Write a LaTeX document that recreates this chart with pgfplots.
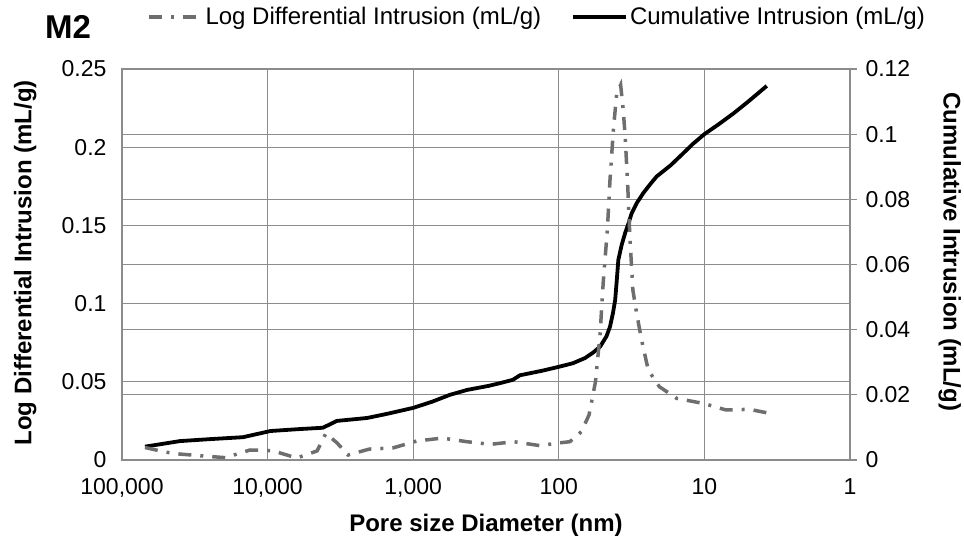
\documentclass[border=0pt]{standalone}
\usepackage{fontspec}
\setmainfont{Liberation Sans}
\usepackage{pgfplots}
\pgfplotsset{compat=1.18}

\definecolor{gridgray}{RGB}{140,140,140}
\definecolor{seriesgray}{RGB}{110,110,110}

% shared frame: 1pt ~ 1px of the 964x542 reference
\pgfplotsset{
  m2base/.style={
    scale only axis, width=728pt, height=391pt,
    at={(0pt,0pt)}, anchor=south west,
    x dir=reverse, xmin=1, xmax=100000,
    xminorticks=false,
    /pgf/number format/assume math mode=true,
    tick label style={font=\fontsize{23}{27}\selectfont},
    label style={font=\bfseries\fontsize{24}{28}\selectfont},
    axis line style={gridgray, line width=1.2pt},
    tick style={gridgray, line width=1.2pt},
    major tick length=0pt, tick align=outside,
    grid style={gridgray, line width=1.2pt},
  },
  dashdot/.style={seriesgray, line width=3.5pt,
    dash pattern=on 13pt off 9pt on 3pt off 9pt},
  solidblack/.style={black, line width=3.8pt},
}

\begin{document}
\begin{tikzpicture}
\useasboundingbox (-122pt,-82pt) rectangle (842pt,460pt);

% left axis: frame, x ticks, left grid
\begin{axis}[xmode=log, m2base,
    ymin=0, ymax=0.25,
    xtick={1,10,100,1000,10000,100000},
    xticklabels={1,10,100,{1,000},{10,000},{100,000}},
    ytick={0,0.05,0.1,0.15,0.2,0.25},
    yticklabels={0,0.05,0.1,0.15,0.2,0.25},
    xtick pos=bottom, ytick pos=left,
    xticklabel style={yshift=-15pt},
    yticklabel style={xshift=-12pt},
    xmajorgrids, ymajorgrids,
    xlabel={Pore size Diameter (nm)},
    ylabel={Log Differential Intrusion (mL/g)},
    xlabel style={at={(axis description cs:0.5,-0.166)}, anchor=center},
    ylabel style={at={(axis description cs:-0.133,0.504)}, anchor=center},
  ]
\end{axis}

% right axis: cumulative intrusion
\begin{axis}[xmode=log, m2base,
    ymin=0, ymax=0.12,
    axis x line=none, axis y line*=right,
    major tick length=7pt,
    ytick={0,0.02,0.04,0.06,0.08,0.1,0.12},
    yticklabels={0,0.02,0.04,0.06,0.08,0.1,0.12},
    yticklabel style={xshift=5pt},
    ymajorgrids,
    ylabel={Cumulative Intrusion (mL/g)},
    ylabel style={at={(axis description cs:1.137,0.532)}, anchor=center, rotate=180},
  ]
\addplot[solidblack] coordinates {
  (69500,0.0041) (40000,0.0058) (25000,0.0064) (14760,0.0070) (9550,0.0089)
  (6000,0.0095) (4170,0.0099) (3340,0.0120) (2070,0.0129) (1500,0.0142)
  (1000,0.0160) (740,0.0179) (560,0.0200) (427,0.0215) (300,0.0228)
  (253,0.0236) (207,0.0246) (185,0.0260) (130,0.0274) (100,0.0286)
  (80,0.0297) (66,0.0313) (58,0.0330) (52,0.0348) (47,0.0380)
  (44.5,0.0409) (42.5,0.0450) (41,0.0491) (40,0.0550) (39,0.0614)
  (37,0.0660) (35,0.0697) (33,0.0730) (31.6,0.0757) (29,0.0790)
  (26.3,0.0819) (23.5,0.0847) (21.3,0.0870) (17,0.0905) (14,0.0941)
  (12,0.0970) (10,0.1000) (8,0.1030) (6.3,0.1064) (5,0.1100) (3.73,0.1148)
};
\end{axis}

% log differential on the left scale, plus the legend
\begin{axis}[xmode=log, m2base,
    ymin=0, ymax=0.25, hide axis,
    legend columns=2,
    legend style={at={(axis description cs:0.570,1)}, yshift=52pt, anchor=center,
      draw=none, fill=none, font=\fontsize{24}{28}\selectfont,
      nodes={inner sep=2pt},
      /tikz/every even column/.append style={column sep=28pt}},
    legend image code/.code={\draw[#1] (0pt,0pt) -- (53pt,0pt);},
  ]
\addplot[dashdot] coordinates {
  (69500,0.0080) (50000,0.0050) (40000,0.0038) (28000,0.0026) (19500,0.0015)
  (13200,0.0064) (9300,0.0060) (6300,0.0013) (4570,0.0058) (3980,0.0170)
  (3340,0.0110) (2800,0.0032) (2000,0.0070) (1380,0.0077) (940,0.0122)
  (630,0.0140) (427,0.0117) (295,0.0100) (204,0.0117) (135,0.0092)
  (98,0.0110) (84,0.0117) (70,0.0181) (62,0.0288) (56,0.0500)
  (52,0.0810) (49.5,0.1140) (46.4,0.1470) (44.5,0.1790) (42.2,0.2110)
  (40,0.2345) (37.6,0.2398) (36.1,0.2238) (35,0.2067) (33.6,0.1748)
  (32.5,0.1428) (31,0.1087) (29.2,0.0938) (27,0.0767) (24.3,0.0575)
  (20.4,0.0469) (15.5,0.0394) (10.2,0.0362) (7.1,0.0320) (4.9,0.0324)
  (3.73,0.0302)
};
\addlegendentry{Log Differential Intrusion (mL/g)}
\addlegendimage{solidblack}
\addlegendentry{Cumulative Intrusion (mL/g)}
\end{axis}

\node[font=\bfseries\fontsize{33}{38}\selectfont] at (-54pt,433pt) {M2};
\end{tikzpicture}
\end{document}
